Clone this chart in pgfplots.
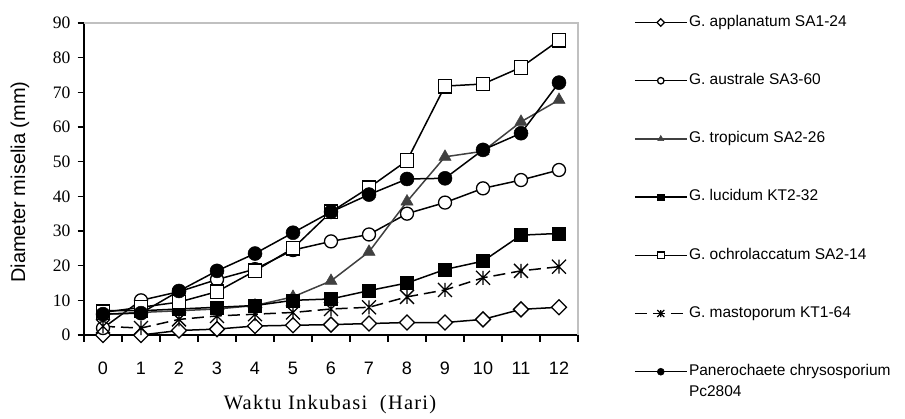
\documentclass[border=0pt]{standalone}
\usepackage{pgfplots}
\pgfplotsset{compat=1.18}
\usepackage{fontspec}
\setmainfont{Liberation Serif}
\newfontfamily\arial{Liberation Sans}
\definecolor{trop}{HTML}{404040}
\definecolor{framegray}{HTML}{C0C0C0}
\pgfdeclareplotmark{xstar}{%
 \pgfpathmoveto{\pgfqpoint{-\pgfplotmarksize}{-\pgfplotmarksize}}%
 \pgfpathlineto{\pgfqpoint{\pgfplotmarksize}{\pgfplotmarksize}}%
 \pgfpathmoveto{\pgfqpoint{-\pgfplotmarksize}{\pgfplotmarksize}}%
 \pgfpathlineto{\pgfqpoint{\pgfplotmarksize}{-\pgfplotmarksize}}%
 \pgfpathmoveto{\pgfqpoint{0pt}{-\pgfplotmarksize}}%
 \pgfpathlineto{\pgfqpoint{0pt}{\pgfplotmarksize}}%
 \pgfusepathqstroke}
\begin{document}
\begin{tikzpicture}
\begin{axis}[
 at={(84pt,84pt)}, anchor=south west,
 scale only axis, width=494pt, height=312pt,
 xmin=-0.5, xmax=12.5, ymin=0, ymax=90,
 clip=false,
 axis x line*=bottom, axis y line*=left,
 axis line style={line width=1.5pt, black},
 xtick={0,...,12}, minor xtick={-0.5,0.5,...,12.5},
 ytick={0,10,...,90},
 major x tick style={draw=none},
 tick align=outside,
 major tick length=6.5pt, minor tick length=7pt,
 tick style={line width=1.3pt, black},
 /pgf/number format/assume math mode=true,
 xticklabel style={font=\arial\fontsize{18}{18}\selectfont, yshift=-17pt},
 yticklabel style={font=\fontsize{17.5}{17.5}\selectfont, inner sep=0pt, xshift=-7pt},
 ylabel={Diameter miselia (mm)},
 ylabel style={font=\arial\fontsize{20}{20}\selectfont, at={(axis description cs:-0.1296,0.49)}, anchor=center, rotate=0},
 xlabel={Waktu Inkubasi \ (Hari)},
 xlabel style={font=\fontsize{20.5}{20.5}\selectfont\addfontfeature{LetterSpace=6}, at={(axis description cs:0.498,-0.224)}, anchor=center},
 legend style={draw=none, fill=none, at={(axis description cs:1.113,1.031)}, anchor=north west,
   inner sep=0pt, row sep=40.2pt, font=\arial\fontsize{15.5}{17}\selectfont,
   nodes={inner sep=1.5pt, text height=11pt, text depth=3.5pt}},
 legend cell align=left,
 legend image code/.code={\path[draw=none,fill=none] (0pt,-9pt) -- (0pt,9pt);\draw[mark repeat=2,mark phase=2,#1] plot coordinates {(0pt,0pt) (26pt,0pt) (52pt,0pt)};},
 legend image post style={every mark/.append style={scale=0.5}},
]
\addplot[black, line width=1.5pt, mark=square*, mark size=5.3pt, mark options={rotate=45, fill=white, draw=black, line width=1.3pt}]
 coordinates {(0,0) (1,0) (2,1.3) (3,1.7) (4,2.6) (5,2.8) (6,3) (7,3.3) (8,3.6) (9,3.6) (10,4.5) (11,7.4) (12,8)};
\addlegendentry{G. applanatum SA1-24}
\addplot[black, line width=1.5pt, mark=*, mark size=6.5pt, mark options={fill=white, draw=black, line width=1.3pt}]
 coordinates {(0,2) (1,10) (2,12.5) (3,16) (4,19) (5,24.5) (6,27) (7,29) (8,35) (9,38.2) (10,42.3) (11,44.7) (12,47.6)};
\addlegendentry{G. australe SA3-60}
\addplot[trop, line width=1.5pt, mark=triangle*, mark size=7pt, mark options={fill=trop, draw=trop, line width=0.5pt}]
 coordinates {(0,6) (1,6.5) (2,7) (3,7.5) (4,8.5) (5,11) (6,15.6) (7,24) (8,38.5) (9,51.4) (10,53) (11,61.5) (12,67.8)};
\addlegendentry{G. tropicum SA2-26}
\addplot[black, line width=1.5pt, mark=square*, mark size=6.5pt, mark options={fill=black, draw=black, line width=0.5pt}]
 coordinates {(0,7) (1,7) (2,7.5) (3,8) (4,8.5) (5,10) (6,10.4) (7,12.8) (8,15) (9,18.9) (10,21.3) (11,28.8) (12,29.3)};
\addlegendentry{G. lucidum KT2-32}
\addplot[black, line width=1.5pt, mark=square*, mark size=6.8pt, mark options={fill=white, draw=black, line width=1.3pt}]
 coordinates {(0,6.5) (1,8) (2,9.5) (3,12.5) (4,18.5) (5,25) (6,35.5) (7,42.5) (8,50.3) (9,71.8) (10,72.4) (11,77.2) (12,85)};
\addlegendentry{G. ochrolaccatum SA2-14}
\addplot[black, line width=1.5pt, dash pattern=on 12pt off 6pt, mark=xstar, mark size=7pt, mark options={solid, draw=black, line width=1.3pt}]
 coordinates {(0,2.5) (1,2) (2,4.5) (3,5.5) (4,6) (5,6.5) (6,7.5) (7,8) (8,11) (9,13) (10,16.5) (11,18.5) (12,19.7)};
\addlegendentry{G. mastoporum KT1-64}
\addplot[black, line width=1.5pt, mark=*, mark size=7pt, mark options={fill=black, draw=black, line width=0.5pt}]
 coordinates {(0,6) (1,6.3) (2,12.7) (3,18.5) (4,23.5) (5,29.5) (6,35.5) (7,40.5) (8,45) (9,45.2) (10,53.4) (11,58.2) (12,72.8)};
\addlegendentry{\vtop{\baselineskip=21pt\hbox{Panerochaete chrysosporium}\hbox{Pc2804}}}
\draw[framegray, line width=1.2pt] (rel axis cs:0,1) -- (rel axis cs:1,1) -- (rel axis cs:1,0);
\end{axis}
\pgfresetboundingbox
\useasboundingbox (0pt,0pt) rectangle (905pt,419pt);
\end{tikzpicture}
\end{document}
